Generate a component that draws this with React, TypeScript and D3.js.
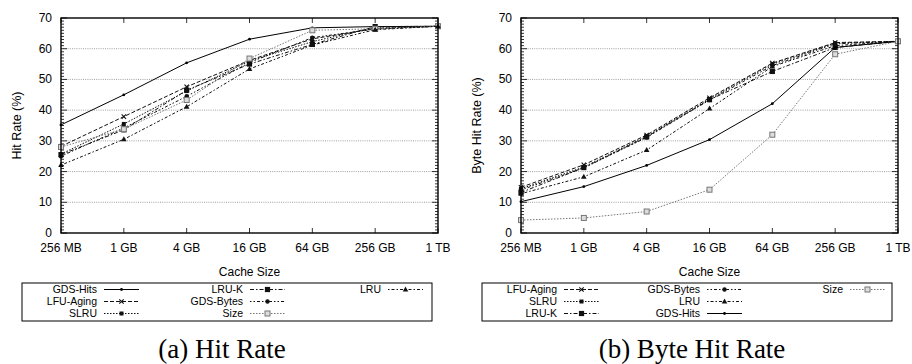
import { scaleLinear, scalePoint, line, range } from "d3";

const sizes = ["256 MB", "1 GB", "4 GB", "16 GB", "64 GB", "256 GB", "1 TB"];
const yTicks = [0, 10, 20, 30, 40, 50, 60, 70];

// (a) hit rate, %
const hitGdsHits = [35.2, 45.0, 55.4, 63.1, 66.8, 67.2, 67.3];
const hitLfuAging = [28.2, 37.9, 47.6, 56.2, 63.2, 66.6, 67.3];
const hitSlru = [25.7, 35.5, 46.2, 56.0, 62.3, 67.0, 67.3];
const hitLruK = [25.5, 33.6, 46.5, 55.0, 61.4, 67.2, 67.3];
const hitGdsBytes = [25.0, 34.2, 44.5, 55.5, 63.6, 66.4, 67.3];
const hitSize = [28.0, 33.8, 43.3, 56.8, 66.0, 66.5, 67.3];
const hitLru = [22.1, 30.5, 41.1, 53.4, 61.2, 66.2, 67.3];

// (b) byte hit rate, %
const byteLfuAging = [14.9, 22.2, 31.9, 44.0, 55.3, 62.0, 62.4];
const byteSlru = [14.4, 21.5, 31.5, 43.6, 55.0, 61.8, 62.4];
const byteLruK = [13.2, 21.3, 31.3, 43.4, 52.6, 60.4, 62.4];
const byteGdsBytes = [14.0, 21.2, 31.1, 43.3, 54.5, 61.6, 62.4];
const byteLru = [12.8, 18.3, 27.0, 40.5, 54.2, 61.0, 62.4];
const byteGdsHits = [10.2, 15.1, 22.0, 30.4, 42.1, 60.4, 62.4];
const byteSize = [4.2, 4.9, 7.0, 14.1, 32.0, 58.2, 62.4];

type Style = { dash: string; color: string; marker: string };
const styles: Record<string, Style> = {
  "GDS-Hits": { dash: "none", color: "#000", marker: "dot" },
  "LFU-Aging": { dash: "4,2", color: "#111", marker: "cross" },
  SLRU: { dash: "1.5,1.5", color: "#111", marker: "sq" },
  "LRU-K": { dash: "4,2,1.5,2", color: "#111", marker: "bigsq" },
  "GDS-Bytes": { dash: "1.5,2,1.5,2,3,2", color: "#111", marker: "circle" },
  Size: { dash: "1.5,1.5", color: "#777", marker: "open" },
  LRU: { dash: "1.5,2,3,2", color: "#111", marker: "tri" },
};

type Series = { name: string; values: number[] };

const hitSeries: Series[] = [
  { name: "GDS-Hits", values: hitGdsHits },
  { name: "LFU-Aging", values: hitLfuAging },
  { name: "SLRU", values: hitSlru },
  { name: "LRU-K", values: hitLruK },
  { name: "GDS-Bytes", values: hitGdsBytes },
  { name: "Size", values: hitSize },
  { name: "LRU", values: hitLru },
];
const byteSeries: Series[] = [
  { name: "LFU-Aging", values: byteLfuAging },
  { name: "SLRU", values: byteSlru },
  { name: "LRU-K", values: byteLruK },
  { name: "GDS-Bytes", values: byteGdsBytes },
  { name: "LRU", values: byteLru },
  { name: "GDS-Hits", values: byteGdsHits },
  { name: "Size", values: byteSize },
];

const sans = "'Liberation Sans', Arial, sans-serif";

function Marker({ kind, x, y, color }: { kind: string; x: number; y: number; color: string }) {
  if (kind === "dot") return <circle cx={x} cy={y} r={1.4} fill={color} />;
  if (kind === "cross")
    return (
      <path d={`M${x - 2.2},${y - 2.2}L${x + 2.2},${y + 2.2}M${x - 2.2},${y + 2.2}L${x + 2.2},${y - 2.2}`} stroke={color} strokeWidth={1.1} />
    );
  if (kind === "sq") return <rect x={x - 2} y={y - 2} width={4} height={4} fill={color} />;
  if (kind === "bigsq") return <rect x={x - 2.6} y={y - 2.6} width={5.2} height={5.2} fill={color} />;
  if (kind === "circle") return <circle cx={x} cy={y} r={2.2} fill={color} />;
  if (kind === "open")
    return <rect x={x - 2.5} y={y - 2.5} width={5} height={5} fill="#ddd" stroke={color} strokeWidth={1} />;
  return <path d={`M${x},${y - 3}L${x + 2.8},${y + 2}L${x - 2.8},${y + 2}Z`} fill={color} />;
}

function Panel({
  x0, x1, series, yLabel, legendCols, legendBox, legendTextX, caption, captionX, yLabelX,
}: {
  x0: number; x1: number; series: Series[]; yLabel: string; legendCols: string[][];
  legendBox: [number, number]; legendTextX: number[]; caption: string; captionX: number; yLabelX: number;
}) {
  const top = 18;
  const bottom = 233;
  const x = scalePoint<string>().domain(sizes).range([x0, x1]);
  const y = scaleLinear().domain([0, 70]).range([bottom, top]);
  const gen = line<number>()
    .x((_, i) => x(sizes[i]) as number)
    .y((d) => y(d));
  const rowY = [289.5, 301.5, 313.5];
  return (
    <g>
      {yTicks.slice(1, -1).map((t) => (
        <line key={t} x1={x0} x2={x1} y1={y(t)} y2={y(t)} stroke="#888" strokeWidth={0.8} strokeDasharray="1,1.2" />
      ))}
      {range(0, 71).map((t) => {
        const len = t % 10 === 0 ? 6 : 3;
        return (
          <g key={t}>
            <line x1={x0} x2={x0 + len} y1={y(t)} y2={y(t)} stroke="#000" strokeWidth={0.8} />
            <line x1={x1} x2={x1 - len} y1={y(t)} y2={y(t)} stroke="#000" strokeWidth={0.8} />
          </g>
        );
      })}
      {sizes.map((s) => (
        <g key={s}>
          <line x1={x(s)} x2={x(s)} y1={top} y2={top + 5} stroke="#000" strokeWidth={0.8} />
          <line x1={x(s)} x2={x(s)} y1={bottom} y2={bottom - 5} stroke="#000" strokeWidth={0.8} />
          <text x={x(s)} y={252} textAnchor="middle" fontFamily={sans} fontSize={12}>{s}</text>
        </g>
      ))}
      {yTicks.map((t) => (
        <text key={t} x={x0 - 9} y={y(t) + 4} textAnchor="end" fontFamily={sans} fontSize={12}>{t}</text>
      ))}
      {series.map((s) => {
        const st = styles[s.name];
        return (
          <g key={s.name}>
            <path d={gen(s.values) || ""} fill="none" stroke={st.color} strokeWidth={1} strokeDasharray={st.dash} />
            {s.values.map((v, i) => (
              <Marker key={i} kind={st.marker} x={x(sizes[i]) as number} y={y(v)} color={st.color} />
            ))}
          </g>
        );
      })}
      <rect x={x0} y={top} width={x1 - x0} height={bottom - top} fill="none" stroke="#000" strokeWidth={1.4} />
      <text transform={`translate(${yLabelX},${(top + bottom) / 2}) rotate(-90)`} textAnchor="middle" fontFamily={sans} fontSize={12.5}>{yLabel}</text>
      <text x={(x0 + x1) / 2} y={276} textAnchor="middle" fontFamily={sans} fontSize={12}>Cache Size</text>
      <rect x={legendBox[0]} y={283} width={legendBox[1] - legendBox[0]} height={38} fill="none" stroke="#000" strokeWidth={1} />
      {legendCols.map((col, ci) =>
        col.map((name, ri) => {
          const st = styles[name];
          const tx = legendTextX[ci];
          const ly = rowY[ri];
          return (
            <g key={name}>
              <text x={tx} y={ly + 3.8} textAnchor="end" fontFamily={sans} fontSize={10.5}>{name}</text>
              <line x1={tx + 7} x2={tx + 42} y1={ly} y2={ly} stroke={st.color} strokeWidth={1} strokeDasharray={st.dash} />
              <Marker kind={st.marker} x={tx + 24.5} y={ly} color={st.color} />
            </g>
          );
        })
      )}
      <text x={captionX} y={358} textAnchor="middle" fontFamily="'Liberation Serif', 'Times New Roman', serif" fontSize={27}>{caption}</text>
    </g>
  );
}

export default function App() {
  return (
    <svg width={912} height={364} style={{ position: "absolute", left: 0, top: 0, background: "#fff" }}>
      <Panel
        x0={61} x1={438} series={hitSeries} yLabel="Hit Rate (%)" yLabelX={21}
        legendCols={[["GDS-Hits", "LFU-Aging", "SLRU"], ["LRU-K", "GDS-Bytes", "Size"], ["LRU"]]}
        legendBox={[22, 432]} legendTextX={[97, 243, 381]}
        caption="(a) Hit Rate" captionX={222}
      />
      <Panel
        x0={521} x1={898} series={byteSeries} yLabel="Byte Hit Rate (%)" yLabelX={481}
        legendCols={[["LFU-Aging", "SLRU", "LRU-K"], ["GDS-Bytes", "LRU", "GDS-Hits"], ["Size"]]}
        legendBox={[482, 892]} legendTextX={[557, 700, 843]}
        caption="(b) Byte Hit Rate" captionX={692}
      />
    </svg>
  );
}
